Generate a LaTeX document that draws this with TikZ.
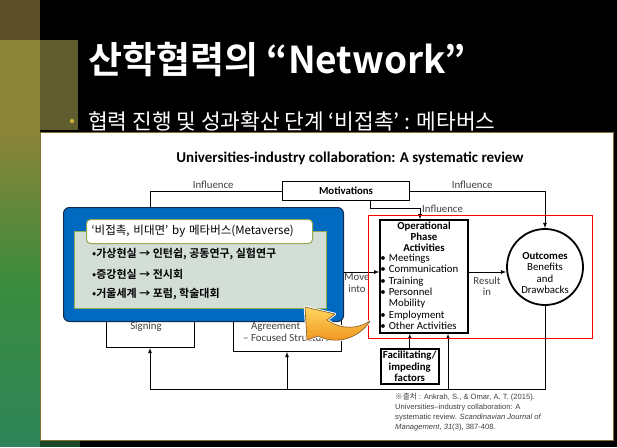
\documentclass[tikz,border=0pt]{standalone}
\usepackage{fontspec}
\setmainfont{Carlito}
\newfontfamily\kr{Noto Sans CJK KR}[BoldFont={Noto Sans CJK KR Bold}]
\newfontfamily\refsans{Liberation Sans}
\usetikzlibrary{arrows, positioning, calc}

\definecolor{olivedark}{RGB}{92,80,42}
\definecolor{olivelight}{RGB}{140,132,56}
\definecolor{olivemid}{RGB}{95,92,45}
\definecolor{stripgreen}{RGB}{58,140,62}
\definecolor{stripteal}{RGB}{46,132,88}
\definecolor{bandgreen}{RGB}{30,70,40}
\definecolor{paneledge}{RGB}{130,110,55}
\definecolor{bulletgold}{RGB}{205,170,60}
\definecolor{metablue}{RGB}{0,106,192}
\definecolor{metaedge}{RGB}{20,40,80}
\definecolor{tagedge}{RGB}{150,170,80}
\definecolor{metapanel}{RGB}{210,222,214}
\definecolor{arrowhi}{RGB}{255,214,96}
\definecolor{arrowlo}{RGB}{236,140,20}
\definecolor{arrowedge}{RGB}{130,85,30}

\newcommand\dtext{\fontsize{10.8}{11.3}\selectfont}

\begin{document}
\begin{tikzpicture}[>=latex, x=1pt, y=-1pt,
        box/.style={draw, line width=0.8pt, inner sep=0},
        tbox/.style={draw, line width=1.5pt, inner sep=0},
        lbl/.style={font=\dtext, text=black!75, inner sep=0},
        ln/.style={line width=0.8pt},
        kline/.style={font=\kr\bfseries\fontsize{11}{12}\selectfont, anchor=west, inner sep=0}]
    \useasboundingbox (0,0) rectangle (617,447);

    % slide background and side strips
    \fill[black] (0,0) rectangle (617,447);
    \fill[olivedark] (0,0) rectangle (40,40);
    \fill[olivelight] (0,40) rectangle (40,130);
    \fill[olivemid] (40,40) rectangle (78,130);
    \shade[top color=olivelight, bottom color=stripteal, middle color=stripgreen]
        (0,130) rectangle (40,441);
    \fill[bandgreen] (40,440) rectangle (80,447);
    \fill[stripteal] (0,440) rectangle (40,447);

    % heading and bullet line
    \node (title) [anchor=base west, inner sep=0, text=white]
        at (88,73) {\kr\bfseries\fontsize{37}{40}\selectfont 산학협력의 “Network”};
    \node (subdot) [circle, fill=bulletgold, inner sep=0, minimum size=4.5] at (72,121) {};
    \node (subtitle) [anchor=base west, inner sep=0, text=white]
        at (88,129) {\kr\fontsize{21.4}{24}\selectfont 협력 진행 및 성과확산 단계 ‘비접촉’ : 메타버스};

    % white sheet
    \node (sheet) [fill=white, draw=paneledge, line width=0.8pt, anchor=north west,
        minimum width=573, minimum height=308, inner sep=0] at (40,132) {};
    \node (review) [font=\bfseries\fontsize{15}{17}\selectfont, inner sep=0]
        at (350,158) {Universities-industry collaboration: A systematic review};

    % framework boxes
    \node (mot) [tbox, minimum width=127, minimum height=19, font=\bfseries\dtext] at (346,191) {Motivations};
    \node (sign) [box, minimum width=88, minimum height=48, anchor=south] at (150,348) {};
    \node (agr) [box, minimum width=108, minimum height=92, anchor=south] at (287,352) {};
    \node (op) [tbox, minimum width=88, minimum height=113] at (424,276.5) {};
    \node (out) [circle, draw, line width=1.8pt, minimum size=76] at (545,267) {};
    \node (fac) [tbox, minimum width=58, minimum height=35, anchor=north west, align=center,
        font=\bfseries\dtext] at (380,348) {Facilitating/\\impeding\\factors};

    \node (signtxt) [lbl] at (146,327) {Signing};
    \node (agrtxt1) [lbl, anchor=west] at (251,327) {Agreement};
    \node (agrtxt2) [lbl, anchor=west] at (243,338) {– Focused Structure};

    \node (ophead) [below=2pt of op.north, align=center, inner sep=0, font=\bfseries\dtext]
        {Operational\\Phase\\Activities};
    \node (opitems) [anchor=north west, align=left, inner sep=0, font=\dtext]
        at ($(op.west |- ophead.south)+(1,2)$)
        {\textbullet\hspace{3pt}Meetings\\
         \textbullet\hspace{3pt}Communication\\
         \textbullet\hspace{3pt}Training\\
         \textbullet\hspace{3pt}Personnel\\
         \phantom{\textbullet}\hspace{3pt}Mobility\\
         \textbullet\hspace{3pt}Employment\\
         \textbullet\hspace{3pt}Other Activities};
    \node (outtxt) [align=center, inner sep=0, font=\dtext] at (545,273)
        {\textbf{Outcomes}\\Benefits\\and\\Drawbacks};

    % influences
    \draw[ln,->] (mot.west) -| node[lbl, above=2pt, pos=0.26] {Influence} (sign.north);
    \draw[ln,->] (mot.east) -| node[lbl, above=2pt, pos=0.23] {Influence} (out.north);
    \coordinate (motout) at ([xshift=24pt]mot.south);
    \coordinate (opin) at ([xshift=-4pt]op.north);
    \draw[ln,->] (motout) -- ++(0,7) -| (opin);
    \node (inf3) [lbl, anchor=west] at (422,209) {Influence};

    % flow through the phase
    \coordinate (mv) at (0,272);
    \draw[ln,->] (agr.east |- mv) -- (op.west |- mv);
    \node (movetxt) [lbl, align=center] at (357,283) {Move\\into};
    \draw[ln,->] (op.east |- mv) -- (out.west |- mv);
    \node (restxt) [lbl, align=center] at (487,286) {Result\\in};
    \draw[ln,->] (fac.north) -- (fac.north |- op.south);

    % feedback from outcomes
    \coordinate (fb) at (545,389);
    \coordinate (opback) at ([xshift=24pt]op.south);
    \draw[ln,->] (out.south) -- (fb) -| (sign.south);
    \draw[ln,->] (fb -| agr.south) -- (agr.south);
    \draw[ln,->] (fb -| opback) -- (opback);

    % highlight of the phase
    \draw[red, line width=0.8pt] (368,215) rectangle (592,338);

    \node (cite) [anchor=north west, align=left, inner sep=0, text=black!75,
        font=\refsans\fontsize{7.6}{10}\selectfont] at (395,393)
        {{\kr ※출처} : Ankrah, S., \& Omar, A. T. (2015).\\
         Universities–industry collaboration: A\\
         systematic review. \textit{Scandinavian Journal of}\\
         \textit{Management}, \textit{31}(3), 387-408.};

    % metaverse call-out
    \node (meta) [fill=metablue, draw=metaedge, line width=1pt, rounded corners=6pt,
        minimum width=280, minimum height=114, anchor=north west] at (63,207) {};
    \node (metapanel) [fill=metapanel, draw=tagedge, line width=0.8pt,
        minimum width=252, minimum height=77, anchor=north west] at (74,231) {};
    \node (metatag) [fill=white, draw=tagedge, line width=1pt, rounded corners=4pt,
        minimum width=226, minimum height=24, anchor=north west, text width=216,
        inner xsep=5pt, inner ysep=0, align=left, font=\kr\fontsize{11.5}{13}\selectfont]
        at (86,219) {‘비접촉, 비대면’ by 메타버스(Metaverse)};
    \node (vr) [kline] at (92,254) {•가상현실 → 인턴쉽, 공동연구, 실험연구};
    \node (ar) [kline] at (92,274) {•증강현실 → 전시회};
    \node (mw) [kline] at (92,294) {•거울세계 → 포럼, 학술대회};

    % curved pointer
    \path[fill=white, draw=white, line width=2.5pt, line join=round]
        (305,307) -- (335,314) -- (327,320)
        .. controls (342,330) and (358,329) .. (370,321)
        .. controls (360,337) and (338,346) .. (318,336) -- (307,340) -- cycle;
    \shade[top color=arrowhi, bottom color=arrowlo, draw=arrowedge, line width=0.6pt,
        line join=round]
        (305,307) -- (335,314) -- (327,320)
        .. controls (342,330) and (358,329) .. (370,321)
        .. controls (360,337) and (338,346) .. (318,336) -- (307,340) -- cycle;
\end{tikzpicture}
\end{document}
